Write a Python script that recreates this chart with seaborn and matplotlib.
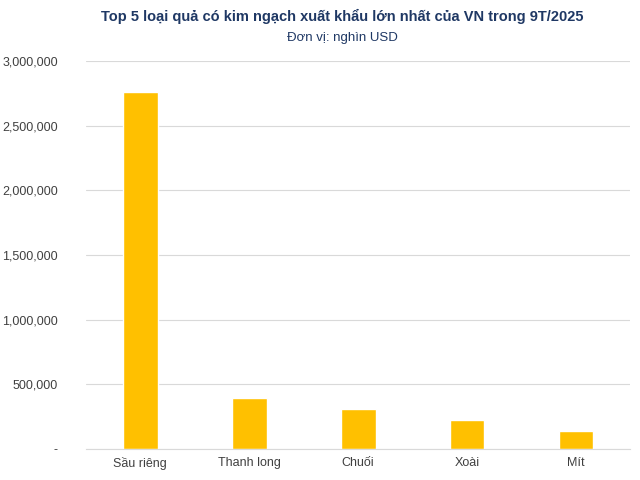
import matplotlib
matplotlib.use("Agg")
import matplotlib.pyplot as plt
import seaborn as sns
import pandas as pd
from matplotlib.ticker import FuncFormatter

categories = ["Sầu riêng", "Thanh long", "Chuối", "Xoài", "Mít"]
values = [2760000, 394000, 309000, 224000, 139000]

sns.set_style("white")
plt.rcParams['font.family'] = ['Liberation Sans', 'DejaVu Sans']
df = pd.DataFrame({"cat": categories, "val": values})
fig = plt.figure(figsize=(6.4, 4.8), dpi=100)
ax = fig.add_axes([0.134, 0.065, 0.851, 0.808])
sns.barplot(data=df, x="cat", y="val", color="#FFC000", width=0.32, saturation=1, ax=ax)
ax.set_ylim(0, 3000000)
ax.set_yticks(range(0, 3000001, 500000))
ax.yaxis.set_major_formatter(FuncFormatter(lambda v, p: "-" if v == 0 else f"{int(v):,}"))
ax.grid(axis="y", color="#d9d9d9", linewidth=0.8)
ax.set_axisbelow(True)
for s in ["top", "right", "left"]:
    ax.spines[s].set_visible(False)
ax.spines["bottom"].set_color("#d9d9d9")
ax.tick_params(axis="y", length=0, labelsize=9, colors="#404040", pad=20)
ax.tick_params(axis="x", length=0, labelsize=9, colors="#404040", pad=6)
ax.set_xlabel("")
ax.set_ylabel("")
fig.text(0.535, 0.965, "Top 5 loại quả có kim ngạch xuất khẩu lớn nhất của VN trong 9T/2025",
         ha="center", va="center", fontsize=10.5, fontweight="bold", color="#1f3864")
fig.text(0.535, 0.92, "Đơn vị: nghìn USD", ha="center", va="center", fontsize=9.5, color="#1f3864")
fig.savefig("out.png", dpi=100)
